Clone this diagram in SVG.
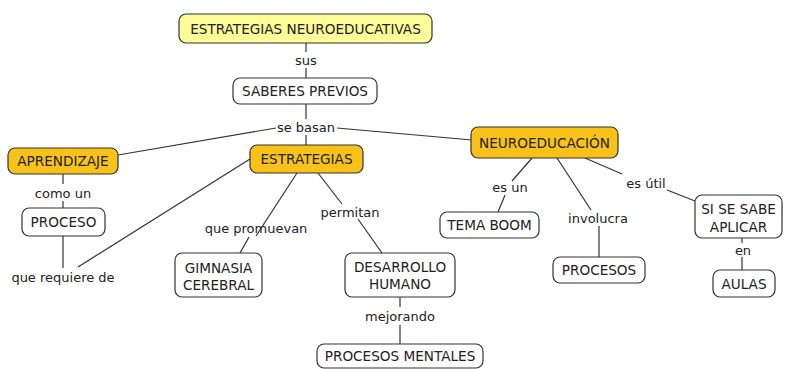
<svg xmlns="http://www.w3.org/2000/svg" width="785" height="369" viewBox="0 0 785 369">
<style>
.n rect{fill:#fff;stroke:#333;stroke-width:1.2}
.y rect{fill:#fcfc98}
.o rect{fill:#f8c21a}
text{font-family:"DejaVu Sans",Verdana,sans-serif;font-size:13px;fill:#222;text-anchor:middle;dominant-baseline:central}
.n text{font-size:13.6px}
.c line,.c polyline{stroke:#333;stroke-width:1.2;fill:none}
.lbl{fill:#222}
</style>
<rect width="785" height="369" fill="#fff"/>
<g class="c" id="connectors">
<line x1="306" y1="43" x2="306" y2="52"/>
<line x1="306" y1="68" x2="306" y2="78"/>
<line x1="306" y1="104" x2="306" y2="119"/>
<line x1="306" y1="135" x2="306" y2="145"/>
<polyline points="276,128 118,155"/>
<polyline points="337,128 472,140"/>
<line x1="63" y1="174" x2="63" y2="184"/>
<line x1="63" y1="201" x2="63" y2="208"/>
<line x1="63" y1="236" x2="63" y2="268"/>
<line x1="78" y1="267" x2="250" y2="159"/>
<line x1="297" y1="173" x2="256" y2="236"/>
<line x1="249" y1="237" x2="240" y2="253"/>
<line x1="318" y1="173" x2="342" y2="204"/>
<line x1="358" y1="219" x2="382" y2="253"/>
<line x1="400" y1="297" x2="400" y2="307"/>
<line x1="400" y1="325" x2="400" y2="344"/>
<line x1="532" y1="158" x2="512" y2="181"/>
<line x1="505" y1="195" x2="498" y2="212"/>
<line x1="557" y1="158" x2="591" y2="210"/>
<line x1="599" y1="226" x2="599" y2="257"/>
<line x1="585" y1="158" x2="622" y2="174"/>
<line x1="667" y1="190" x2="695" y2="201"/>
<line x1="742" y1="238" x2="742" y2="243"/>
<line x1="742" y1="257" x2="742" y2="270"/>
</g>
<g class="lbl">
<text x="306" y="60">sus</text>
<text x="306" y="127">se basan</text>
<text x="63" y="193">como un</text>
<text x="63" y="277">que requiere de</text>
<text x="256" y="228">que promuevan</text>
<text x="350" y="212">permitan</text>
<text x="400" y="316">mejorando</text>
<text x="510" y="187">es un</text>
<text x="598" y="218">involucra</text>
<text x="646" y="183">es útil</text>
<text x="743" y="250">en</text>
</g>
<g id="n1" class="n y"><rect x="179" y="14" width="253" height="29" rx="7"/><text x="305.5" y="29">ESTRATEGIAS NEUROEDUCATIVAS</text></g>
<g id="n2" class="n"><rect x="233" y="78" width="144" height="26" rx="7"/><text x="305" y="91">SABERES PREVIOS</text></g>
<g id="n3" class="n o"><rect x="8" y="148" width="110" height="26" rx="7"/><text x="63" y="161">APRENDIZAJE</text></g>
<g id="n4" class="n o"><rect x="250" y="145" width="113" height="28" rx="7"/><text x="306.5" y="159">ESTRATEGIAS</text></g>
<g id="n5" class="n o"><rect x="471" y="127" width="147" height="31" rx="7"/><text x="544.5" y="143">NEUROEDUCACIÓN</text></g>
<g id="n6" class="n"><rect x="22" y="208" width="83" height="28" rx="7"/><text x="63.5" y="222">PROCESO</text></g>
<g id="n7" class="n"><rect x="175" y="253" width="87" height="44" rx="7"/><text x="218.5" y="268">GIMNASIA</text><text x="218.5" y="285">CEREBRAL</text></g>
<g id="n8" class="n"><rect x="345" y="253" width="110" height="44" rx="7"/><text x="400" y="267">DESARROLLO</text><text x="400" y="284">HUMANO</text></g>
<g id="n9" class="n"><rect x="317" y="344" width="166" height="24" rx="7"/><text x="400" y="356">PROCESOS MENTALES</text></g>
<g id="n10" class="n"><rect x="440" y="212" width="99" height="26" rx="7"/><text x="489.5" y="225">TEMA BOOM</text></g>
<g id="n11" class="n"><rect x="553" y="257" width="92" height="26" rx="7"/><text x="599" y="270">PROCESOS</text></g>
<g id="n12" class="n"><rect x="695" y="195" width="87" height="43" rx="7"/><text x="738.5" y="209">SI SE SABE</text><text x="738.5" y="227">APLICAR</text></g>
<g id="n13" class="n"><rect x="713" y="270" width="62" height="27" rx="7"/><text x="744" y="283.5">AULAS</text></g>
</svg>
